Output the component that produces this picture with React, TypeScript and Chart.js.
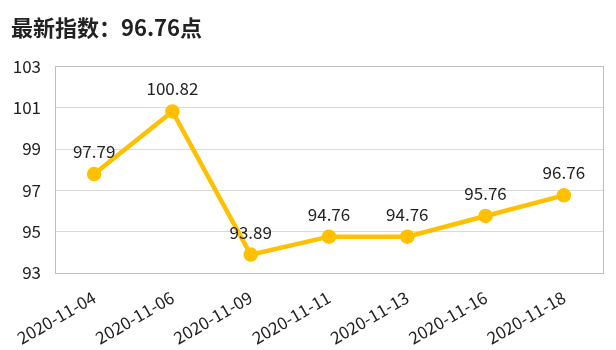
import React, { useEffect, useRef } from "react";
import { Chart, registerables } from "chart.js";

Chart.register(...registerables);

const titleText = "最新指数：96.76点";
const categories = ["2020-11-04", "2020-11-06", "2020-11-09", "2020-11-11", "2020-11-13", "2020-11-16", "2020-11-18"];
const values = [97.79, 100.82, 93.89, 94.76, 94.76, 95.76, 96.76];
const yMin = 93;
const yMax = 103;
const yStep = 2;

const FONT = "'Noto Sans CJK SC', 'Noto Sans', sans-serif";

const frameAndLabels = {
  id: "frameAndLabels",
  afterDatasetsDraw(chart: any) {
    const { ctx, chartArea } = chart;
    ctx.save();
    ctx.strokeStyle = "#bfbfbf";
    ctx.lineWidth = 1;
    ctx.strokeRect(
      Math.round(chartArea.left) + 0.5,
      Math.round(chartArea.top) + 0.5,
      Math.round(chartArea.right - chartArea.left),
      Math.round(chartArea.bottom - chartArea.top)
    );
    const meta = chart.getDatasetMeta(0);
    ctx.fillStyle = "#222222";
    ctx.font = `17px ${FONT}`;
    ctx.textAlign = "center";
    ctx.textBaseline = "bottom";
    meta.data.forEach((pt: any, i: number) => {
      ctx.fillText(values[i].toFixed(2), pt.x, pt.y - 14);
    });
    ctx.restore();
  },
};

export default function App() {
  const ref = useRef<HTMLCanvasElement>(null);
  useEffect(() => {
    document.body.style.margin = "0";
    const chart = new Chart(ref.current!, {
      type: "line",
      data: {
        labels: categories,
        datasets: [
          {
            data: values,
            borderColor: "#FFC000",
            backgroundColor: "#FFC000",
            borderWidth: 4.5,
            pointRadius: 5,
            pointBackgroundColor: "#FFC000",
            pointBorderColor: "#FFC000",
            tension: 0,
          },
        ],
      },
      options: {
        animation: false,
        responsive: false,
        maintainAspectRatio: false,
        layout: { padding: { left: 11, right: 13, top: 0, bottom: 2 } },
        plugins: {
          legend: { display: false },
          tooltip: { enabled: false },
          title: {
            display: true,
            text: titleText,
            align: "start",
            color: "#222222",
            font: { family: FONT, size: 22, weight: "bold" },
            padding: { top: 14, bottom: 26 },
          },
        },
        scales: {
          x: {
            offset: true,
            afterFit(scale: any) {
              scale.height = 75;
            },
            grid: { display: false, drawTicks: false },
            border: { display: true, color: "#bfbfbf" },
            ticks: {
              color: "#222222",
              font: { family: FONT, size: 17 },
              minRotation: 30,
              maxRotation: 30,
              padding: 14,
            },
          },
          y: {
            min: yMin,
            max: yMax,
            afterFit(scale: any) {
              scale.width = 44;
            },
            grid: { color: "#d9d9d9", drawTicks: false },
            border: { display: true, color: "#bfbfbf" },
            ticks: {
              stepSize: yStep,
              color: "#222222",
              font: { family: FONT, size: 17 },
              padding: 14,
            },
          },
        },
      },
      plugins: [frameAndLabels],
    });
    return () => chart.destroy();
  }, []);
  return (
    <div style={{ width: 616, height: 350 }}>
      <canvas ref={ref} width={616} height={350} style={{ display: "block" }} />
    </div>
  );
}
